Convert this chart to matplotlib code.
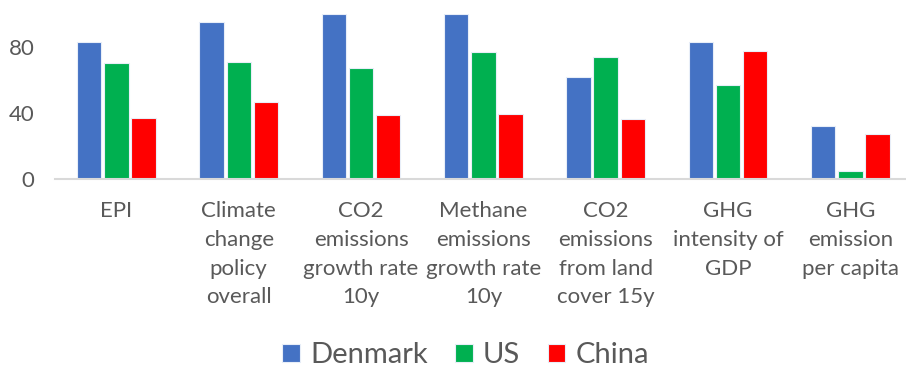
import numpy as np
import matplotlib
matplotlib.use("Agg")
import matplotlib.pyplot as plt

plt.rcParams['font.family'] = ['Lato', 'DejaVu Sans']

# Data
categories = ["EPI", "Climate\nchange\npolicy\noverall", "CO2\nemissions\ngrowth rate\n10y",
              "Methane\nemissions\ngrowth rate\n10y", "CO2\nemissions\nfrom land\ncover 15y",
              "GHG\nintensity of\nGDP", "GHG\nemission\nper capita"]
denmark = [83, 95, 100, 100, 62, 83, 32]
us = [70, 71, 67, 77, 74, 57, 4.5]
china = [37, 46.5, 38.5, 39.5, 36, 77.5, 27]
series = [("Denmark", denmark, "#4472C4"), ("US", us, "#00B050"), ("China", china, "#FF0000")]
yticks = [0, 40, 80]

fig = plt.figure(figsize=(9.06, 3.68), dpi=100, facecolor="white")
ax = fig.add_axes([0.061, 0.514, 0.945, 0.448])

x = np.arange(len(categories))
pitch = 0.222
for i, (name, vals, col) in enumerate(series):
    ax.bar(x + (i - 1) * pitch, vals, width=0.2, color=col, edgecolor="#e8eef8",
           linewidth=0.8, label=name, zorder=2)

ax.set_xlim(-0.5, len(categories) - 0.5)
ax.set_ylim(0, 100)
ax.set_yticks(yticks)
ax.set_xticks(x)
ax.set_xticklabels(categories, linespacing=1.55)
ax.tick_params(axis="x", length=0, pad=16, labelsize=16, labelcolor="#595959")
ax.tick_params(axis="y", length=0, pad=15, labelsize=16, labelcolor="#595959")
for s in ["top", "right", "left"]:
    ax.spines[s].set_visible(False)
ax.spines["bottom"].set_color("#d9d9d9")
ax.spines["bottom"].set_linewidth(1.5)

leg = fig.legend(loc="center", bbox_to_anchor=(0.514, 0.035), ncol=3, frameon=False,
                 fontsize=21, handlelength=0.6, handleheight=0.6, handletextpad=0.35,
                 columnspacing=0.95)
for t in leg.get_texts():
    t.set_color("#595959")

plt.savefig("out.png", dpi=100)
